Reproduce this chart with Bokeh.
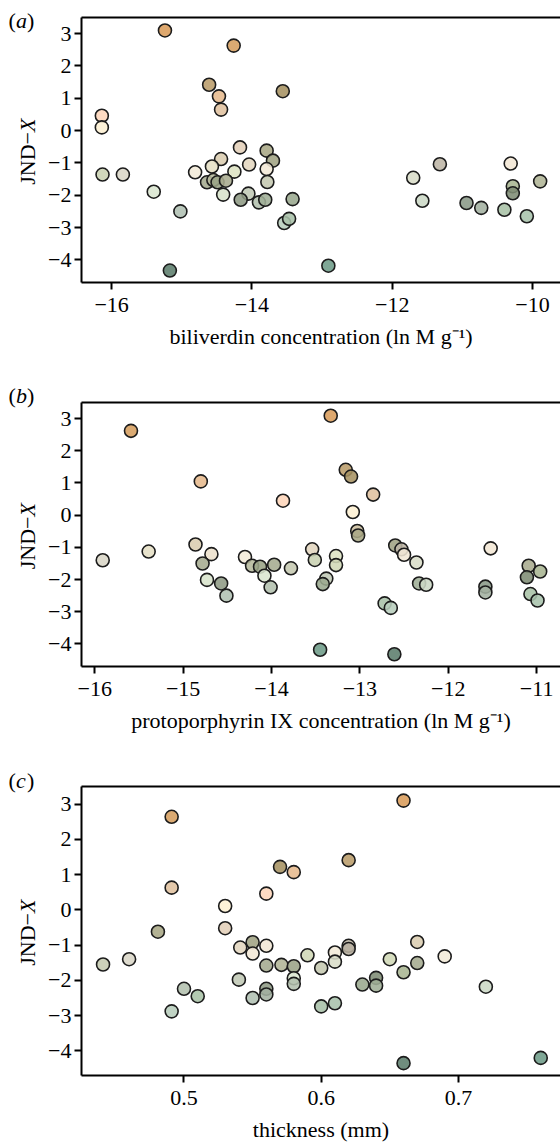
import math
from bokeh.plotting import figure
from bokeh.layouts import column, row
from bokeh.models import Range1d, LinearAxis, FixedTicker
from bokeh.core.properties import value
from bokeh.embed import file_html
from bokeh.resources import INLINE

# ---------------- data ----------------
a_x = [-15.24, -14.26, -14.61, -14.47, -14.44, -13.56, -16.14, -16.14, -14.17, -13.79,
       -13.70, -14.44, -14.04, -11.32, -10.31, -16.13, -15.84, -14.81, -14.57, -14.25,
       -13.79, -11.70, -9.89, -15.40, -15.02, -14.64, -14.55, -14.49, -14.37, -14.41,
       -14.05, -14.16, -13.90, -13.81, -13.78, -13.42, -13.54, -13.47, -15.17, -12.91,
       -11.57, -10.94, -10.73, -10.40, -10.28, -10.28, -10.08]
a_y = [3.10, 2.63, 1.42, 1.06, 0.65, 1.22, 0.46, 0.10, -0.52, -0.62,
       -0.93, -0.88, -1.05, -1.04, -1.02, -1.36, -1.36, -1.29, -1.11, -1.27,
       -1.19, -1.46, -1.57, -1.89, -2.50, -1.60, -1.53, -1.60, -1.55, -1.98,
       -1.95, -2.14, -2.22, -2.14, -1.59, -2.12, -2.86, -2.73, -4.33, -4.18,
       -2.17, -2.24, -2.39, -2.45, -1.72, -1.94, -2.65]
a_c = ["#d99c5a", "#d69e5e", "#b99c6a", "#e6b98d", "#e0c29f", "#a69262", "#fdd5b9", "#fdf0d3", "#e3cfb8", "#a9a785",
       "#a1a383", "#dbcdb0", "#e2d6bf", "#bdb5a5", "#f3e7d5", "#c9d2b2", "#d9d6c7", "#f3ead8", "#e5dfc5", "#dde3c3",
       "#f3e8d6", "#d9ddc8", "#b0b596", "#dbe6d0", "#b0c0b3", "#a5ab90", "#b5b89c", "#9aa386", "#a9ab8e", "#d8e4cc",
       "#c0c8b5", "#8e9a84", "#b3c0ae", "#9fae96", "#c5c8b0", "#9aa88e", "#b7cdbc", "#a8c0a8", "#5c7d6c", "#6d9b88",
       "#ccd8c6", "#8a9888", "#a3b0a0", "#a9c2a6", "#a9b592", "#7e8c74", "#a9c3ac"]

b_x = [-15.59, -13.33, -14.80, -13.16, -13.10, -13.87, -12.85, -13.08, -13.03, -13.02,
       -14.86, -12.60, -12.53, -12.50, -11.52, -15.91, -15.39, -14.68, -14.78, -14.73,
       -14.57, -14.51, -14.30, -14.22, -14.13, -14.08, -13.97, -14.01, -13.78, -13.54,
       -13.51, -13.27, -13.27, -13.38, -13.42, -12.36, -12.33, -12.25, -12.72, -12.65,
       -11.58, -11.58, -11.09, -10.96, -11.11, -11.07, -10.99, -13.45, -12.61]
b_y = [2.62, 3.09, 1.05, 1.41, 1.20, 0.45, 0.64, 0.10, -0.49, -0.63,
       -0.91, -0.94, -1.06, -1.23, -1.03, -1.40, -1.13, -1.21, -1.50, -2.01,
       -2.12, -2.50, -1.30, -1.57, -1.60, -1.88, -1.54, -2.24, -1.65, -1.06,
       -1.39, -1.27, -1.55, -1.97, -2.14, -1.47, -2.12, -2.16, -2.74, -2.88,
       -2.22, -2.40, -1.57, -1.75, -1.93, -2.45, -2.65, -4.18, -4.32]
b_c = ["#d69e5e", "#d99c5a", "#e6b98d", "#b99c6a", "#a69262", "#fdd5b9", "#e0c29f", "#fdf0d3", "#cdbf9f", "#a9a785",
       "#dbcdb0", "#a1a383", "#bdb5a5", "#f3e8d6", "#f3e7d5", "#d9d6c7", "#e5dfc5", "#ece0cc", "#a5ab90", "#d8e4cc",
       "#8e9a84", "#b0c0b3", "#f3ead8", "#b5b89c", "#9aa386", "#dbe6d0", "#a5ab90", "#b3c0ae", "#c5c8b0", "#e2d6bf",
       "#c9d2b2", "#dde3c3", "#d0d8b6", "#c0c8b5", "#9aa88e", "#d9ddc8", "#9fae96", "#ccd8c6", "#a8c0a8", "#b7cdbc",
       "#8a9888", "#a3b0a0", "#a9ab8e", "#a9b592", "#7e8c74", "#a9c2a6", "#a9c3ac", "#6d9b88", "#5c7d6c"]

c_x = [0.491, 0.660, 0.620, 0.570, 0.580, 0.491, 0.560, 0.530, 0.481, 0.530,
       0.441, 0.460, 0.541, 0.550, 0.550, 0.560, 0.560, 0.571, 0.580, 0.580,
       0.580, 0.590, 0.600, 0.610, 0.610, 0.620, 0.620, 0.650, 0.660, 0.670,
       0.670, 0.690, 0.630, 0.640, 0.640, 0.720, 0.540, 0.500, 0.510, 0.491,
       0.550, 0.560, 0.560, 0.600, 0.610, 0.660, 0.760]
c_y = [2.64, 3.10, 1.41, 1.22, 1.07, 0.63, 0.46, 0.11, -0.62, -0.52,
       -1.55, -1.40, -1.07, -0.92, -1.24, -1.02, -1.58, -1.56, -1.60, -1.94,
       -2.10, -1.29, -1.65, -1.21, -1.47, -1.02, -1.11, -1.40, -1.77, -0.91,
       -1.51, -1.32, -2.12, -1.93, -2.15, -2.18, -1.98, -2.24, -2.45, -2.88,
       -2.50, -2.24, -2.40, -2.74, -2.65, -4.35, -4.20]
c_c = ["#d69e5e", "#d99c5a", "#b99c6a", "#a69262", "#e6b98d", "#e0c29f", "#fdd5b9", "#fdf0d3", "#a9a785", "#e3cfb8",
       "#c5cbb0", "#d9d6c7", "#e2d6bf", "#a1a383", "#f3e8d6", "#f3e7d5", "#a5ab90", "#b0b596", "#9aa386", "#dbe6d0",
       "#b3c0ae", "#d0d8b6", "#c5c8b0", "#f3ead8", "#d9ddc8", "#bdb5a5", "#b8b0a0", "#d0d8b6", "#a9b592", "#dbcdb0",
       "#a5ab90", "#f3ead8", "#9aa88e", "#7e8c74", "#9fae96", "#ccd8c6", "#c0c8b5", "#b3c0ae", "#a9c2a6", "#b7cdbc",
       "#b0c0b3", "#8e9a84", "#a3b0a0", "#a8c0a8", "#a9c3ac", "#5c7d6c", "#6d9b88"]

a_ticks = [-16, -14, -12, -10]
b_ticks = [-16, -15, -14, -13, -12, -11]
c_ticks = [0.5, 0.6, 0.7]
y_ticks = [-4, -3, -2, -1, 0, 1, 2, 3]
y_label = ["JND\u2212", "X"]

FONT = "Liberation Serif"
TICK_FS = "22px"
LAB_FS = "22px"
LEFT_W = 40          # width of the narrow label strip
FRAME_LEFT = 81      # frame left edge from the page edge


def lab(v):
    return ("%g" % v).replace("-", "\u2212")


def panel(xs, ys, cols, xr, xticks, xlabel, height, top, bottom, ylo=-4.7, yhi=3.5):
    p = figure(width=560 - LEFT_W, height=height, output_backend="svg", toolbar_location=None,
               x_range=Range1d(*xr), y_range=Range1d(ylo, yhi),
               min_border_left=FRAME_LEFT - LEFT_W, min_border_right=0,
               min_border_top=top, min_border_bottom=bottom,
               x_axis_location=None, y_axis_location=None)
    p.outline_line_color = None
    p.grid.visible = False

    xa = LinearAxis(ticker=FixedTicker(ticks=xticks),
                    major_label_overrides={t: lab(t) for t in xticks})
    ya = LinearAxis(ticker=FixedTicker(ticks=y_ticks),
                    major_label_overrides={t: lab(t) for t in y_ticks})
    for ax in (xa, ya):
        ax.axis_line_width = 2
        ax.axis_line_color = "black"
        ax.major_tick_line_width = 2
        ax.major_tick_line_color = "black"
        ax.major_tick_out = 7
        ax.major_tick_in = 0
        ax.minor_tick_line_color = None
        ax.major_label_text_font = FONT
        ax.major_label_text_font_size = TICK_FS
        ax.major_label_text_color = "black"
    xa.major_label_standoff = 8
    ya.major_label_standoff = 3
    xa.axis_label = xlabel
    xa.axis_label_text_font = FONT
    xa.axis_label_text_font_size = LAB_FS
    xa.axis_label_text_font_style = "normal"
    xa.axis_label_text_color = "black"
    xa.axis_label_standoff = 9
    p.add_layout(xa, "below")
    p.add_layout(ya, "left")
    top_ax = LinearAxis(ticker=FixedTicker(ticks=[]), axis_line_width=2, axis_line_color="black",
                        major_tick_line_color=None, minor_tick_line_color=None)
    p.add_layout(top_ax, "above")

    p.scatter(xs, ys, size=13, fill_color=cols, fill_alpha=0.88,
              line_color="#1c1c1c", line_width=1.6)
    return p


def strip(height, letter, letter_y, label_center_y):
    """Narrow strip on the left holding the panel letter and the y-axis title (pixel coords, y up)."""
    s = figure(width=LEFT_W, height=height, output_backend="svg", toolbar_location=None,
               x_range=Range1d(0, LEFT_W), y_range=Range1d(0, height),
               min_border_left=0, min_border_right=0, min_border_top=0, min_border_bottom=0,
               x_axis_location=None, y_axis_location=None)
    s.frame_align = False
    s.outline_line_color = None
    s.grid.visible = False
    f = dict(text_font=value(FONT), text_font_size=value(LAB_FS), text_color="black",
             text_baseline="middle")
    ly = height - letter_y
    s.text(x=[8], y=[ly], text=["("], text_align="left", **f)
    s.text(x=[15.5], y=[ly], text=[letter], text_align="left", text_font_style="italic", **f)
    s.text(x=[26.5], y=[ly], text=[")"], text_align="left", **f)
    # y-axis title "JND−X" with italic X, rotated
    join = height - label_center_y + 18
    s.text(x=[27], y=[join], text=[y_label[0]], angle=math.pi / 2, text_align="right", **f)
    s.text(x=[27], y=[join], text=[y_label[1]], angle=math.pi / 2, text_align="left",
           text_font_style="italic", **f)
    return s


# rows: 0-380, 380-760, 760-1147
pa = panel(a_x, a_y, a_c, (-16.43, -9.60), a_ticks,
           "biliverdin concentration (ln M g\u207b\u00b9)", 380, 17, 98)
pb = panel(b_x, b_y, b_c, (-16.15, -10.73), b_ticks,
           "protoporphyrin IX concentration (ln M g\u207b\u00b9)", 380, 22, 94)
pc = panel(c_x, c_y, c_c, (0.4253, 0.7744), c_ticks,
           "thickness (mm)", 387, 26, 72)

sa = strip(380, "a", 20, 17 + 265 / 2)
sb = strip(380, "b", 15, 22 + 264 / 2)
sc = strip(387, "c", 20, 26 + 289 / 2)

layout = column(row(sa, pa, spacing=0), row(sb, pb, spacing=0), row(sc, pc, spacing=0), spacing=0)
open("out.html", "w").write(file_html(layout, INLINE))
